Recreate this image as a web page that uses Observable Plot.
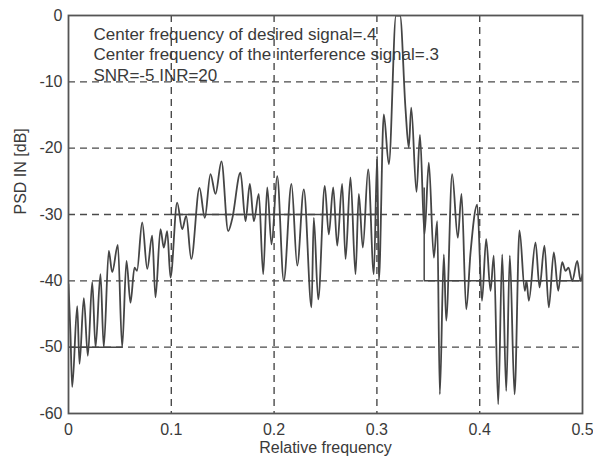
<!DOCTYPE html>
<html>
<head>
<meta charset="utf-8">
<script src="https://cdn.jsdelivr.net/npm/d3@7"></script>
<script src="https://cdn.jsdelivr.net/npm/@observablehq/plot@0.6"></script>
<style>
  body { margin: 0; background: #fff; }
</style>
</head>
<body>
<div id="chart"></div>
<script>
// Relative frequency (x) and PSD in dB (y)
const freq = [0, 0.0019, 0.0036, 0.0085, 0.0107, 0.0149, 0.0188, 0.0231, 0.0263, 0.0311,
  0.0343, 0.0392, 0.0425, 0.0480, 0.0522, 0.0564, 0.0603, 0.0642, 0.0666, 0.0717,
  0.0766, 0.0814, 0.0846, 0.0895, 0.0927, 0.0960, 0.0992, 0.1057, 0.1106, 0.1145,
  0.1194, 0.1274, 0.1326, 0.1381, 0.1430, 0.1488, 0.1553, 0.1592, 0.1673, 0.1722,
  0.1764, 0.1803, 0.1851, 0.1894, 0.1933, 0.1975, 0.2030, 0.2094, 0.2169, 0.2225,
  0.2289, 0.2364, 0.2386, 0.2429, 0.2493, 0.2532, 0.2575, 0.2614, 0.2662, 0.2695,
  0.2743, 0.2792, 0.2824, 0.2863, 0.2915, 0.2970, 0.3003, 0.3019, 0.3067, 0.3116,
  0.3186, 0.3225, 0.3278, 0.3310, 0.3334, 0.3385, 0.3419, 0.3463, 0.3505, 0.3554,
  0.3587, 0.3612, 0.3651, 0.3674, 0.3732, 0.3787, 0.3823, 0.3869, 0.3911, 0.3976,
  0.4022, 0.4063, 0.4105, 0.4137, 0.4180, 0.4219, 0.4258, 0.4293, 0.4339, 0.4387,
  0.4439, 0.4455, 0.4478, 0.4543, 0.4582, 0.4630, 0.4672, 0.4721, 0.4764, 0.4802,
  0.4835, 0.4864, 0.4900, 0.4949, 0.4981, 0.5];
const psdDb = [-40.5, -48, -56, -43.8, -52.5, -42.6, -51.3, -40.2, -50, -39,
  -50, -35.5, -38.7, -34.6, -50, -37, -43.3, -38, -38.5, -31.2,
  -38.2, -33.2, -42.5, -32.2, -35, -32.5, -39.5, -28.2, -32.2, -30.2,
  -36.7, -26.0, -30.5, -23.9, -26.9, -22.0, -32.5, -30.7, -23.7, -31,
  -25.4, -31, -26.9, -39, -25.9, -34.5, -24.2, -40, -25.4, -37.7,
  -26.2, -44, -30.5, -42.8, -25.7, -33, -25.9, -34.7, -25.4, -36.7,
  -24.4, -39, -26.9, -35, -23.2, -39, -21.2, -40, -14.9, -22.4,
  0, 0, -14, -19.9, -13.9, -26.6, -18, -33, -22.2, -36.5,
  -31, -57.1, -36, -46, -23.9, -33.5, -26.9, -44.3, -35.7, -28.5,
  -43, -33.7, -41.5, -36.2, -58.6, -36, -56.6, -36.2, -57.1, -32.4,
  -41.5, -40, -43, -34.2, -41, -34.7, -44, -35.7, -41.5, -37.2,
  -38.5, -38, -40, -37, -40, -39];

// Solid horizontal traces that appear on top of grid lines in the reference
const traceLevel = [-50, -30, -40];
const traceFrom = [0, 0.1, 0.346];
const traceTo = [0.053, 0.302, 0.5];
const stepX = [0.346];
const stepFrom = [-40];
const stepTo = [-26];

const xTicks = [0, 0.1, 0.2, 0.3, 0.4, 0.5];
const xTickLabels = ["0", "0.1", "0.2", "0.3", "0.4", "0.5"];
const yTicks = [0, -10, -20, -30, -40, -50, -60];
const yTickLabels = ["0", "-10", "-20", "-30", "-40", "-50", "-60"];
const xLabel = "Relative frequency";
const yLabel = "PSD IN [dB]";
const notes = [
  "Center frequency of desired signal=.4",
  "Center frequency of the interference signal=.3",
  "SNR=-5 INR=20"
];

const psd = freq.map((f, i) => ({f, db: psdDb[i]}));
const traces = traceLevel.map((y, i) => ({y, x1: traceFrom[i], x2: traceTo[i]}));
const steps = stepX.map((x, i) => ({x, y1: stepFrom[i], y2: stepTo[i]}));

const ink = "#454545";
const chart = Plot.plot({
  width: 593,
  height: 459,
  marginLeft: 68,
  marginRight: 11,
  marginTop: 15,
  marginBottom: 46,
  style: {fontFamily: "'Liberation Sans', Arial, sans-serif", fontSize: "16px", color: "#3a3a3a", background: "#fff"},
  x: {domain: [0, 0.5], label: null},
  y: {domain: [-60, 0], label: null},
  marks: [
    Plot.gridX(xTicks.slice(1, -1), {stroke: "#4a4a4a", strokeOpacity: 1, strokeWidth: 1.4, strokeDasharray: "7,5"}),
    Plot.gridY(yTicks.slice(1, -1), {stroke: "#4a4a4a", strokeOpacity: 1, strokeWidth: 1.4, strokeDasharray: "7,5"}),
    Plot.ruleY(traces, {y: "y", x1: "x1", x2: "x2", stroke: ink, strokeWidth: 1.5}),
    Plot.ruleX(steps, {x: "x", y1: "y1", y2: "y2", stroke: ink, strokeWidth: 1.5}),
    Plot.line(psd, {x: "f", y: "db", curve: "monotone-x", clip: true, stroke: ink, strokeWidth: 1.8}),
    Plot.frame({stroke: "#555", strokeWidth: 1.8}),
    Plot.axisX(xTicks, {tickSize: 0, tickPadding: 10, tickFormat: d => xTickLabels[xTicks.indexOf(d)], fontSize: 16, label: null}),
    Plot.axisY(yTicks, {tickSize: 0, tickPadding: 6, tickFormat: d => yTickLabels[yTicks.indexOf(d)], fontSize: 16, label: null}),
    Plot.text([notes.join("\n")], {frameAnchor: "top-left", dx: 25, dy: 10, lineAnchor: "top", textAnchor: "start", lineHeight: 1.2, fontSize: 17, fill: "#3a3a3a"}),
    Plot.text([xLabel], {frameAnchor: "bottom", dy: 39, fontSize: 16, fill: "#3a3a3a"}),
    Plot.text([yLabel], {frameAnchor: "left", dx: -48, rotate: -90, fontSize: 16, fill: "#3a3a3a"})
  ]
});
document.getElementById("chart").appendChild(chart);
</script>
</body>
</html>
